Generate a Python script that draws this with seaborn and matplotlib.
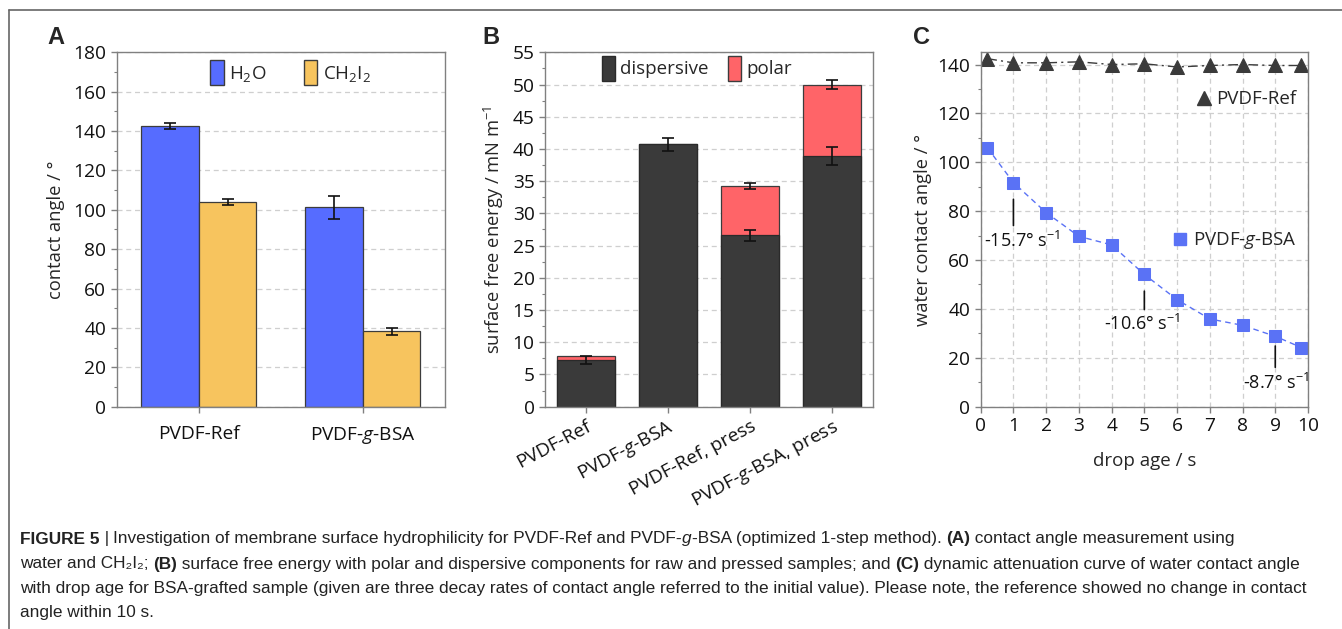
import numpy as np
import pandas as pd
import seaborn as sns
import matplotlib
matplotlib.use("Agg")
import matplotlib.pyplot as plt
from matplotlib.lines import Line2D
from matplotlib.patches import Patch
from matplotlib.ticker import MultipleLocator

# ---------------- data ----------------
samples_a = ["PVDF-Ref", "PVDF-$\\mathit{g}$-BSA"]
liquids = ["H$_2$O", "CH$_2$I$_2$"]
angle_h2o = [142.7, 101.2]
err_h2o = [1.5, 5.8]
angle_ch2i2 = [104.1, 38.2]
err_ch2i2 = [1.6, 2.0]

samples_b = ["PVDF-Ref", "PVDF-$\\mathit{g}$-BSA", "PVDF-Ref, press", "PVDF-$\\mathit{g}$-BSA, press"]
dispersive = [7.3, 40.7, 26.6, 38.9]
dispersive_err = [0.6, 1.0, 0.85, 1.35]
polar = [0.5, 0.0, 7.6, 11.1]
total_err = [0.0, 0.0, 0.45, 0.7]

drop_age = [0.2, 1, 2, 3, 4, 5, 6, 7, 8, 9, 9.8]
ref_angle = [142.4, 140.7, 140.7, 141.1, 140.0, 140.3, 139.0, 139.6, 140.0, 139.6, 139.6]
bsa_angle = [106.0, 91.7, 79.4, 69.7, 66.2, 54.1, 43.8, 35.9, 33.3, 28.8, 24.2]
rate_x = [1, 5, 9]
rate_labels = ["-15.7° s$^{-1}$", "-10.6° s$^{-1}$", "-8.7° s$^{-1}$"]

caption_lines = [
    [("FIGURE 5", "bold"), (" | ", "normal"),
     ("Investigation of membrane surface hydrophilicity for PVDF-Ref and PVDF-", "normal"),
     ("g", "italic"), ("-BSA (optimized 1-step method). ", "normal"), ("(A)", "bold"),
     (" contact angle measurement using", "normal")],
    [("water and CH\u2082I\u2082; ", "normal"), ("(B)", "bold"),
     (" surface free energy with polar and dispersive components for raw and pressed samples; and ", "normal"),
     ("(C)", "bold"), (" dynamic attenuation curve of water contact angle", "normal")],
    [("with drop age for BSA-grafted sample (given are three decay rates of contact angle referred to the initial value). Please note, the reference showed no change in contact", "normal")],
    [("angle within 10 s.", "normal")],
]

# ---------------- style ----------------
sns.set_theme(style="ticks")
plt.rcParams["font.family"] = ["Open Sans", "DejaVu Sans"]
plt.rcParams["mathtext.fontset"] = "custom"
plt.rcParams["mathtext.rm"] = "Open Sans"
plt.rcParams["mathtext.it"] = "Open Sans:italic"
plt.rcParams["mathtext.bf"] = "Open Sans:bold"

BLUE = "#566cff"
ORANGE = "#f7c45e"
DARK = "#3a3a3a"
RED = "#ff6468"
SQ = "#5a72f5"
SPINE = "#808080"
GRID = "#cfcfcf"
FS = 13.8     # tick labels
LFS = 13.2    # axis labels
LEGFS = 13.5

W, H = 1342, 629
fig = plt.figure(figsize=(W / 100, H / 100), dpi=100)

def ax_rect(l, r, t, b):
    return [l / W, 1 - b / H, (r - l) / W, (b - t) / H]

axA = fig.add_axes(ax_rect(116.7, 445, 52.3, 406.7))
axB = fig.add_axes(ax_rect(545, 873, 52.3, 406.7))
axC = fig.add_axes(ax_rect(980.7, 1308, 52.3, 406.7))

def style_axes(ax):
    for s in ax.spines.values():
        s.set_color(SPINE)
        s.set_linewidth(1.0)
        s.set_visible(True)
    ax.tick_params(which="both", direction="out", color=SPINE, labelsize=FS, labelcolor="#111")
    ax.tick_params(which="major", length=4, width=1)
    ax.tick_params(which="minor", length=2.5, width=0.8)
    ax.set_axisbelow(True)

# ---------------- Panel A ----------------
dfA = pd.DataFrame({
    "sample": samples_a * 2,
    "liquid": [liquids[0]] * 2 + [liquids[1]] * 2,
    "angle": angle_h2o + angle_ch2i2,
})
sns.barplot(data=dfA, x="sample", y="angle", hue="liquid", palette=[BLUE, ORANGE],
            width=0.7, errorbar=None, edgecolor="#3c3c3c", linewidth=0.9,
            saturation=1, legend=False, ax=axA)
for cont, vals, errs in zip(axA.containers, [angle_h2o, angle_ch2i2], [err_h2o, err_ch2i2]):
    xs = [b.get_x() + b.get_width() / 2 for b in cont]
    axA.errorbar(xs, vals, yerr=errs, fmt="none", ecolor="#111", elinewidth=1.2, capsize=4.5, capthick=1.2)
axA.set_ylim(0, 180)
axA.set_xlim(-0.5, 1.5)
axA.yaxis.set_major_locator(MultipleLocator(20))
axA.yaxis.set_minor_locator(MultipleLocator(10))
axA.yaxis.grid(True, which="major", color=GRID, linestyle=(0, (4, 3)), linewidth=0.9)
axA.set_xlabel("")
axA.set_ylabel("contact angle / °", fontsize=LFS, labelpad=6)
style_axes(axA)
axA.tick_params(axis="x", pad=9)
handlesA = [Patch(facecolor=BLUE, edgecolor="#3c3c3c", label=liquids[0]),
            Patch(facecolor=ORANGE, edgecolor="#3c3c3c", label=liquids[1])]
axA.legend(handles=handlesA, loc="center", bbox_to_anchor=(0.53, 0.943), ncol=2, frameon=False,
           fontsize=LEGFS, handlelength=0.7, handleheight=1.7, handletextpad=0.3, columnspacing=2.0)

# ---------------- Panel B ----------------
total = [d + p for d, p in zip(dispersive, polar)]
sns.barplot(x=samples_b, y=total, color=RED, width=0.7, errorbar=None, saturation=1,
            edgecolor="#3c3c3c", linewidth=0.9, ax=axB)
sns.barplot(x=samples_b, y=dispersive, color=DARK, width=0.7, errorbar=None, saturation=1,
            edgecolor="#2a2a2a", linewidth=0.9, ax=axB)
xsB = [b.get_x() + b.get_width() / 2 for b in axB.containers[1]]
axB.errorbar(xsB, dispersive, yerr=dispersive_err, fmt="none", ecolor="#111",
             elinewidth=1.2, capsize=4.5, capthick=1.2)
sel = [i for i, (p, e) in enumerate(zip(polar, total_err)) if p > 0 and e > 0]
axB.errorbar([xsB[i] for i in sel], [total[i] for i in sel], yerr=[total_err[i] for i in sel],
             fmt="none", ecolor="#111", elinewidth=1.2, capsize=4.5, capthick=1.2)
axB.set_ylim(0, 55)
axB.set_xlim(-0.5, 3.5)
axB.yaxis.set_major_locator(MultipleLocator(5))
axB.yaxis.set_minor_locator(MultipleLocator(2.5))
axB.yaxis.grid(True, which="major", color=GRID, linestyle=(0, (4, 3)), linewidth=0.9)
axB.set_ylabel("surface free energy / mN m$^{-1}$", fontsize=LFS, labelpad=5)
style_axes(axB)
plt.setp(axB.get_xticklabels(), rotation=28, ha="right", rotation_mode="anchor")
handlesB = [Patch(facecolor=DARK, edgecolor="#2a2a2a", label="dispersive"),
            Patch(facecolor=RED, edgecolor="#3c3c3c", label="polar")]
axB.legend(handles=handlesB, loc="center", bbox_to_anchor=(0.463, 0.955), ncol=2, frameon=False,
           fontsize=LEGFS, handlelength=0.7, handleheight=1.7, handletextpad=0.3, columnspacing=1.0)

# ---------------- Panel C ----------------
sns.lineplot(x=drop_age, y=ref_angle, ax=axC, color=DARK, marker="^", markersize=10,
             markeredgecolor=DARK, linestyle=(0, (7, 3, 1.5, 3)), linewidth=1.0)
sns.lineplot(x=drop_age, y=bsa_angle, ax=axC, color=SQ, marker="s", markersize=9,
             markeredgecolor=SQ, linestyle=(0, (4, 3)), linewidth=1.0)
axC.set_xlim(0, 10)
axC.set_ylim(0, 145)
axC.xaxis.set_major_locator(MultipleLocator(1))
axC.yaxis.set_major_locator(MultipleLocator(20))
axC.yaxis.set_minor_locator(MultipleLocator(10))
axC.grid(True, which="major", color=GRID, linestyle=(0, (4, 3)), linewidth=0.9)
axC.set_xlabel("drop age / s", fontsize=LFS + 0.3, labelpad=12)
axC.set_ylabel("water contact angle / °", fontsize=LFS, labelpad=4)
style_axes(axC)

offsets = [(9, -58), (-2, -49), (1, -47)]
line_spans = [(-12, -43), (-12, -35), (-7, -31)]
for rx, lab, (dx, dy), (l0, l1) in zip(rate_x, rate_labels, offsets, line_spans):
    yv = bsa_angle[drop_age.index(rx)]
    axC.annotate("", xy=(rx, yv), xycoords="data", xytext=(0, l1), textcoords="offset pixels",
                 arrowprops=dict(arrowstyle="-", color="#111", lw=1.2, shrinkA=0, shrinkB=-l0))
    axC.annotate(lab, xy=(rx, yv), xytext=(dx, dy), textcoords="offset pixels",
                 ha="center", va="center", fontsize=13, color="#111")

hRef = Line2D([], [], color=DARK, marker="^", markersize=10, linestyle="none", label="PVDF-Ref")
hBsa = Line2D([], [], color=SQ, marker="s", markersize=9, linestyle="none", label="PVDF-$\\mathit{g}$-BSA")
legRef = axC.legend(handles=[hRef], loc="center right", bbox_to_anchor=(1.0, 0.868), frameon=False,
                    fontsize=LEGFS, handlelength=0.8, handletextpad=0.3, borderaxespad=0.2)
axC.add_artist(legRef)
axC.legend(handles=[hBsa], loc="center right", bbox_to_anchor=(1.0, 0.468), frameon=False,
           fontsize=LEGFS, handlelength=0.8, handletextpad=0.3, borderaxespad=0.2)

# ---------------- panel letters & frame ----------------
for lx, letter in [(56, "A"), (491, "B"), (921, "C")]:
    fig.text(lx / W, 1 - 37 / H, letter, ha="center", va="center", fontsize=17,
             fontweight="bold", family=["Liberation Sans", "DejaVu Sans"])

fig.add_artist(Line2D([9 / W, 1.0], [1 - 10 / H, 1 - 10 / H], transform=fig.transFigure,
                      color="#666", lw=1.2))
fig.add_artist(Line2D([9 / W, 9 / W], [1 - 10 / H, 0], transform=fig.transFigure,
                      color="#666", lw=1.2))

# ---------------- caption ----------------
renderer = fig.canvas.get_renderer()
cap_family = ["Liberation Sans", "DejaVu Sans"]
line_y = [539, 564, 589, 613]
for pieces, yy in zip(caption_lines, line_y):
    x = 20.0
    for txt, kind in pieces:
        kw = dict(fontsize=12.45, family=cap_family, color="#222", va="center", ha="left")
        if kind == "bold":
            kw["fontweight"] = "bold"
        if kind == "italic":
            kw["fontstyle"] = "italic"
        t = fig.text(x / W, 1 - yy / H, txt, **kw)
        bb = t.get_window_extent(renderer)
        x += bb.width

fig.savefig("out.png", dpi=100)
